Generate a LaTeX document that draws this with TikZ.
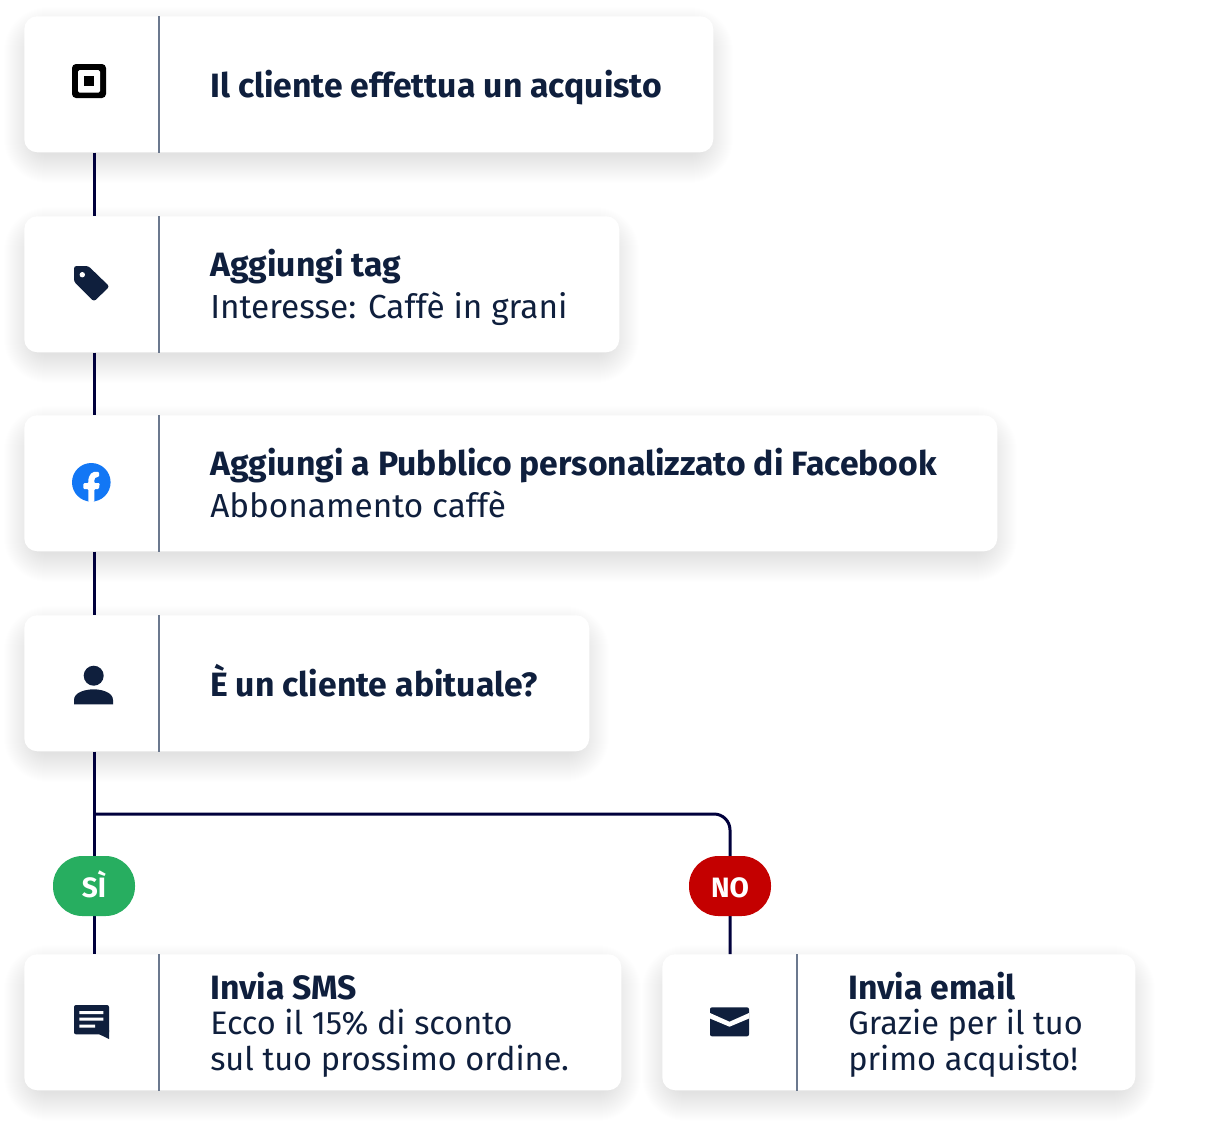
\documentclass[tikz,border=0pt]{standalone}
\usepackage{fontspec}
\setmainfont{Fira Sans}
\usetikzlibrary{calc}
\definecolor{inkcol}{HTML}{0F1F3D}
\definecolor{linecol}{HTML}{00003C}
\definecolor{rulecol}{HTML}{6B788E}
\definecolor{fbcol}{HTML}{1277F5}
\definecolor{sicol}{HTML}{27AE60}
\definecolor{nocol}{HTML}{C40000}
\newcommand{\px}{0.75pt}
\newcommand{\headtext}[1]{{\fontsize{25.3}{27}\selectfont\bfseries #1}}
\newcommand{\cardshadow}[4]{%
  \foreach \i in {-8,...,20}
    \fill[black, opacity=.0024, rounded corners={(16+\i+8)*\px}]
      ($(#1-\i,#2-\i+11)$) rectangle ($(#3+\i,#4+\i+11)$);}
\tikzset{
  cardbox/.style={fill=white, rounded corners=13*\px, anchor=north west, minimum height=136*\px, inner sep=0pt},
  flow/.style={draw=linecol, line width=3*\px},
  divider/.style={draw=rulecol, line width=1.5*\px},
  pill/.style={rounded corners=29.5*\px, minimum width=82*\px, minimum height=60*\px, inner sep=0pt, text=white, text height=16.5pt, text depth=0pt, font=\fontsize{21}{24}\selectfont\bfseries},
  cardtext/.style={anchor=base west, inner sep=0pt, align=left, text=inkcol, font=\fontsize{25}{27}\selectfont},
  cardtextsmall/.style={cardtext, font=\fontsize{24.4}{26.6}\selectfont},
  icon/.style={fill=inkcol}
}
\begin{document}
\begin{tikzpicture}[x=0.75pt, y=-0.75pt]
  \useasboundingbox (0,0) rectangle (1231,1122);
  \fill[white] (0,0) rectangle (1231,1122);

  \cardshadow{24}{16}{713}{152}
  \cardshadow{24}{216}{619}{352}
  \cardshadow{24}{415}{997}{551}
  \cardshadow{24}{615}{589}{751}
  \cardshadow{24}{954}{621}{1090}
  \cardshadow{662}{954}{1135}{1090}

  \coordinate (spine) at (94,0);
  \coordinate (elbow) at (730,814);

  \node[cardbox, minimum width=689*\px] (purchase) at (24,16) {};
  \node[cardbox, minimum width=595*\px] (tag) at (24,216) {};
  \node[cardbox, minimum width=973*\px] (audience) at (24,415) {};
  \node[cardbox, minimum width=565*\px] (customer) at (24,615) {};
  \node[cardbox, minimum width=597*\px] (sms) at (24,954) {};
  \node[cardbox, minimum width=473*\px] (email) at (662,954) {};

  % connectors
  \draw[flow] (spine |- purchase.south) -- (spine |- tag.north);
  \draw[flow] (spine |- tag.south) -- (spine |- audience.north);
  \draw[flow] (spine |- audience.south) -- (spine |- customer.north);
  \draw[flow] (spine |- customer.south) -- (spine |- sms.north);
  \draw[flow, rounded corners=16*\px] (spine |- elbow) -- (elbow) -- (elbow |- email.north);

  \node[pill, fill=sicol] (yes) at (94,886) {SÌ};
  \node[pill, fill=nocol] (no) at (730,886) {NO};

  % dividers
  \foreach \c in {purchase,tag,audience,customer,sms}
    \draw[divider] ($(\c.north west)+(135,0)$) -- ($(\c.south west)+(135,0)$);
  \draw[divider] ($(email.north west)+(135,0)$) -- ($(email.south west)+(135,0)$);

  % texts
  \node[cardtext] (purchasetext) at (210,97) {\headtext{Il cliente effettua un acquisto}};
  \node[cardtext] (tagtext) at (210,318) {\headtext{Aggiungi tag}\\[4.5pt]Interesse: Caffè in grani};
  \node[cardtext] (audiencetext) at (210,517) {\headtext{Aggiungi a Pubblico personalizzato di Facebook}\\[4.5pt]Abbonamento caffè};
  \node[cardtext] (customertext) at (210,696) {\headtext{È un cliente abituale?}};
  \node[cardtextsmall] (smstext) at (210,1070) {\headtext{Invia SMS}\\Ecco il 15\% di sconto\\sul tuo prossimo ordine.};
  \node[cardtextsmall] (emailtext) at (848,1070) {\headtext{Invia email}\\Grazie per il tuo\\primo acquisto!};

  % icons
  \fill[black, rounded corners=4*\px] (72,64) rectangle (106,98);
  \fill[white, rounded corners=1.5*\px] (78,70) rectangle (100,92.5);
  \fill[black] (84,76) rectangle (93.5,86);

  \fill[icon, rounded corners=2.5*\px] (74,266) -- (88.3,266) -- (109.5,286.5) -- (94,301.5) -- (74,281.7) -- cycle;
  \fill[white] (82.3,274.7) circle (2.7);

  \fill[fbcol] (91.3,482.3) circle (19.3);
  \fill[white, rounded corners=1*\px] (88.3,501.8) -- (88.3,489) -- (83.3,489) -- (83.3,483.2) -- (88.3,483.2)
    .. controls (88.3,474) and (92,471) .. (99,472) -- (99,477) .. controls (95.5,476.6) and (94.3,478) .. (94.3,483.2)
    -- (99.8,483.2) -- (98.8,489) -- (94.3,489) -- (94.3,501.8) -- cycle;

  \fill[icon] (93.7,675.7) circle (10);
  \fill[icon] (74,704.3) -- (74,700) .. controls (74,692) and (86,689.3) .. (93.7,689.3)
    .. controls (101,689.3) and (113,692) .. (113,700) -- (113,704.3) -- cycle;

  \fill[icon, rounded corners=2*\px] (74,1005) -- (109,1005) -- (109,1034.3) -- (74,1034.3) -- cycle;
  \fill[icon] (109,1030) -- (109,1039) -- (99.3,1034.3) -- cycle;
  \fill[white] (79.3,1011) rectangle (103.3,1014) (79.3,1017.7) rectangle (103.3,1020.7) (79.3,1024.5) rectangle (95,1027.5);

  \fill[icon, rounded corners=2*\px] (710,1007.3) rectangle (749,1036.3);
  \fill[white] (710,1013) -- (729.5,1021.7) -- (749,1013) -- (749,1018.5) -- (729.5,1026.7) -- (710,1018.5) -- cycle;
\end{tikzpicture}
\end{document}
